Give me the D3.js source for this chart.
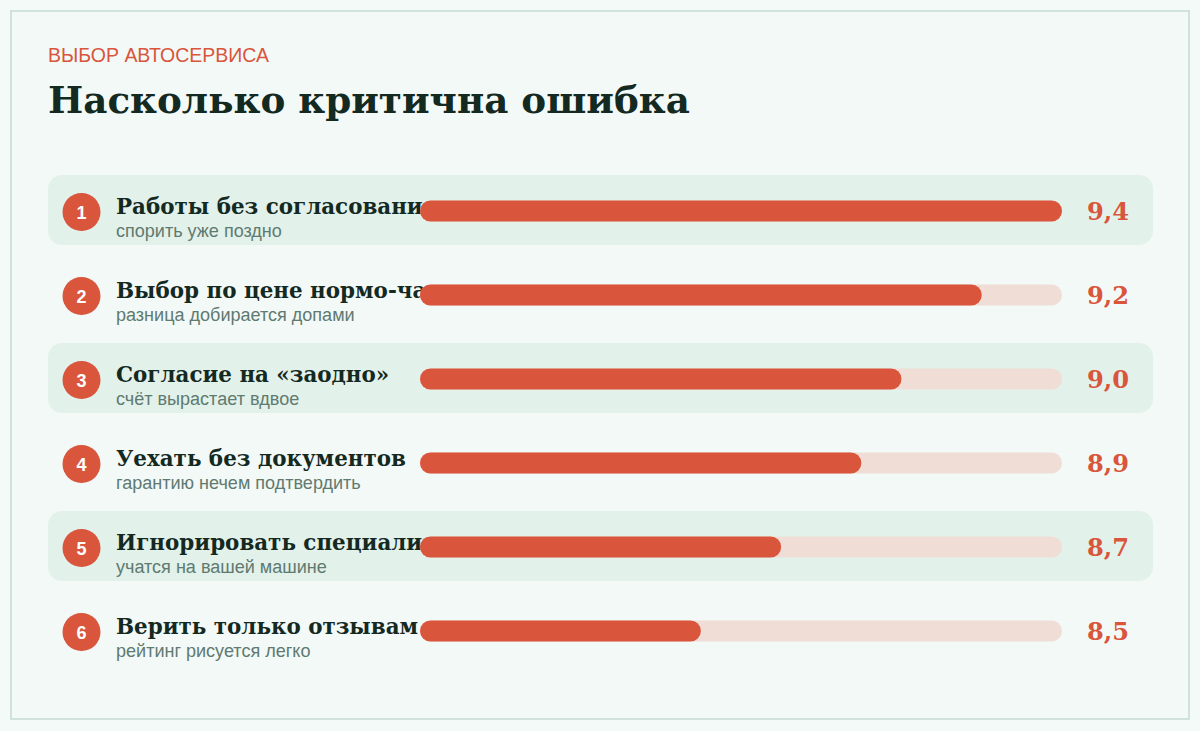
<!DOCTYPE html>
<html><head><meta charset="utf-8">
<script src="https://cdn.jsdelivr.net/npm/d3@7"></script>
<style>
html,body{margin:0;padding:0;background:#f4faf8;}
svg{display:block;}
</style></head>
<body>
<svg id="chart" width="1200" height="731"></svg>
<script>
const kicker = "ВЫБОР АВТОСЕРВИСА";
const title = "Насколько критична ошибка";
const ranks = [1, 2, 3, 4, 5, 6];
const labels = ["Работы без согласования", "Выбор по цене нормо-часа", "Согласие на «заодно»", "Уехать без документов", "Игнорировать специализацию", "Верить только отзывам"];
const notes = ["спорить уже поздно", "разница добирается допами", "счёт вырастает вдвое", "гарантию нечем подтвердить", "учатся на вашей машине", "рейтинг рисуется легко"];
const values = [9.4, 9.2, 9.0, 8.9, 8.7, 8.5];
const valueLabels = ["9,4", "9,2", "9,0", "8,9", "8,7", "8,5"];

const data = ranks.map((r, i) => ({rank: r, label: labels[i], note: notes[i], value: values[i], vlabel: valueLabels[i]}));

const svg = d3.select("#chart");
const RED = "#d9553b", DARK = "#14291f", GREY = "#5f7a70";
const SERIF = "Georgia, 'DejaVu Serif', serif";
const SANS = "Arial, 'Liberation Sans', sans-serif";

function fit(sel, target) {
  const node = sel.node();
  const fs = parseFloat(sel.attr("font-size"));
  const w = node.getComputedTextLength();
  if (w > 0) sel.attr("font-size", (fs * target / w).toFixed(2));
  return parseFloat(sel.attr("font-size"));
}

// frame
svg.append("rect").attr("x", 11).attr("y", 11).attr("width", 1178).attr("height", 708)
  .attr("fill", "#f3f9f7").attr("stroke", "#cfe3dc").attr("stroke-width", 2);

const k = svg.append("text").attr("x", 48).attr("y", 62).attr("font-family", SANS)
  .attr("font-size", 18).attr("fill", RED).text(kicker);
fit(k, 221);
const t = svg.append("text").attr("x", 48).attr("y", 113).attr("font-family", SERIF)
  .attr("font-weight", "bold").attr("font-size", 38).attr("fill", DARK).text(title);
fit(t, 642);

const y = d3.scaleBand().domain(ranks).range([169, 673]).paddingInner(0);
const x = d3.scaleLinear().domain([7.8, 9.4]).range([420, 1062]);
const barH = 21;

svg.append("defs").append("clipPath").attr("id", "labclip")
  .append("rect").attr("x", 0).attr("y", -50).attr("width", 432).attr("height", 100);

const rows = svg.selectAll("g.row").data(data).join("g").attr("class", "row")
  .attr("transform", d => `translate(0,${y(d.rank) + y.bandwidth() / 2})`);

rows.filter((d, i) => i % 2 === 0).append("rect")
  .attr("x", 48).attr("y", -36).attr("width", 1105).attr("height", 70).attr("rx", 14)
  .attr("fill", "#e2f1ea");

rows.append("circle").attr("cx", 81.5).attr("cy", 1).attr("r", 19).attr("fill", RED);
rows.append("text").attr("x", 81.5).attr("y", 7.5).attr("text-anchor", "middle")
  .attr("font-family", SANS).attr("font-weight", "bold").attr("font-size", 18)
  .attr("fill", "#fff").text(d => d.rank);

const labs = rows.append("text").attr("x", 116).attr("y", 3).attr("clip-path", "url(#labclip)")
  .attr("font-family", SERIF).attr("font-weight", "bold").attr("font-size", 22)
  .attr("fill", DARK).text(d => d.label);
const refLab = labs.filter(d => d.rank === 4);
const lfs = fit(refLab, 290);
labs.attr("font-size", lfs);

const nts = rows.append("text").attr("x", 116).attr("y", 26)
  .attr("font-family", SANS).attr("font-size", 16).attr("fill", GREY).text(d => d.note);
const nfs = fit(nts.filter(d => d.rank === 1), 166);
nts.attr("font-size", nfs);

rows.append("rect").attr("x", x(7.8)).attr("y", -barH / 2).attr("width", x(9.4) - x(7.8))
  .attr("height", barH).attr("rx", barH / 2).attr("fill", "#efddd6");
rows.append("rect").attr("x", x(7.8)).attr("y", -barH / 2).attr("width", d => x(d.value) - x(7.8))
  .attr("height", barH).attr("rx", barH / 2).attr("fill", RED);

const vls = rows.append("text").attr("x", 1087).attr("y", 9)
  .attr("font-family", SERIF).attr("font-weight", "bold").attr("font-size", 22)
  .attr("fill", RED).text(d => d.vlabel);
const vfs = fit(vls.filter(d => d.rank === 1), 42);
vls.attr("font-size", vfs);
</script>
</body></html>
